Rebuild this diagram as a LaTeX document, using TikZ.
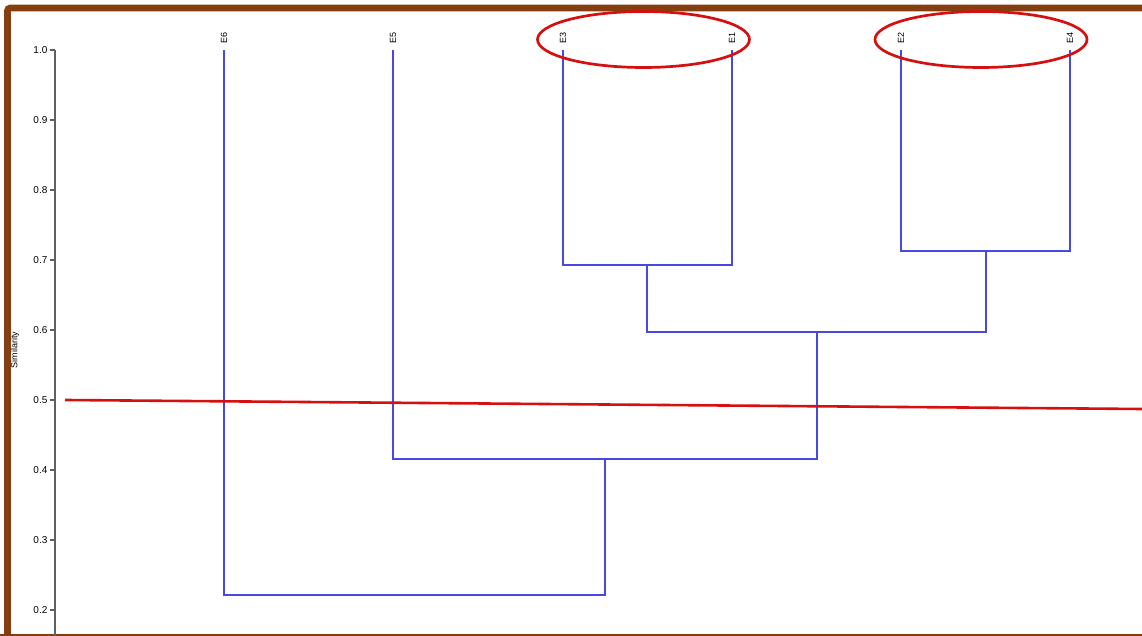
\documentclass[tikz,border=0pt]{standalone}
\usepackage{fontspec}
\setsansfont{Liberation Sans}
\usepackage{tikz}

\definecolor{dendro}{RGB}{72,72,228}
\definecolor{frame}{RGB}{133,62,16}
\definecolor{cutred}{RGB}{212,16,16}
\definecolor{axisgray}{RGB}{95,95,100}

\begin{document}
\begin{tikzpicture}[x=1pt, y=700pt, font=\sffamily, line join=miter]
    \tikzstyle{link}=[draw=dendro, line width=1.3pt]
    \tikzstyle{leaf}=[rotate=90, anchor=west, inner xsep=6pt, inner ysep=0pt,
                      font=\sffamily\fontsize{9}{9}\selectfont]
    \tikzstyle{ring}=[draw=cutred, line width=2.7pt]

    \useasboundingbox (0,0.16286) rectangle (1142,1.07143);

    % frame
    \draw[frame, line width=6.8pt, rounded corners=3pt]
        (7.5,0.14) -- (7.5,1.06) -- (1160,1.06);
    \draw[frame, line width=1.5pt] (0,0.16429) -- (1142,0.16429);

    % similarity axis
    \draw[axisgray, line width=1.5pt] (55,1.0) -- (55,0.15);
    \foreach \s [count=\i] in {0.2,0.3,0.4,0.5,0.6,0.7,0.8,0.9,1.0}
        \draw[axisgray, line width=1.2pt] (49.5,\s) -- (55,\s)
            node (tick\i) [at start, left, inner sep=1.5pt, text=black,
                           font=\sffamily\fontsize{10}{10}\selectfont] {\s};
    \node (ylab) [rotate=90, font=\sffamily\fontsize{9}{9}\selectfont]
        at (15,0.5714) {Similarity};

    % leaves
    \node[leaf] (E6) at (224,1.0)  {E6};
    \node[leaf] (E5) at (393,1.0)  {E5};
    \node[leaf] (E3) at (563,1.0)  {E3};
    \node[leaf] (E1) at (732,1.0)  {E1};
    \node[leaf] (E2) at (901,1.0)  {E2};
    \node[leaf] (E4) at (1070,1.0) {E4};

    % joins
    \coordinate (m31)   at (647,0.6929);
    \coordinate (m24)   at (986,0.7129);
    \coordinate (m3124) at (817,0.5971);
    \coordinate (m5)    at (605,0.4157);
    \coordinate (root)  at (414,0.2214);

    \draw[link] (E3.west) |- (m31) -| (E1.west);
    \draw[link] (E2.west) |- (m24) -| (E4.west);
    \draw[link] (m31) |- (m3124) -| (m24);
    \draw[link] (E5.west) |- (m5) -| (m3124);
    \draw[link] (E6.west) |- (root) -| (m5);

    % cut level and marked pairs
    \coordinate (cutL) at (65,0.5);
    \coordinate (cutR) at (1142,0.48714);
    \draw[cutred, line width=2.6pt] (cutL) -- (cutR);
    \draw[ring] (643.5,1.015) ellipse [x radius=106pt, y radius=28pt];
    \draw[ring] (981,1.015) ellipse [x radius=106pt, y radius=28pt];
\end{tikzpicture}
\end{document}
